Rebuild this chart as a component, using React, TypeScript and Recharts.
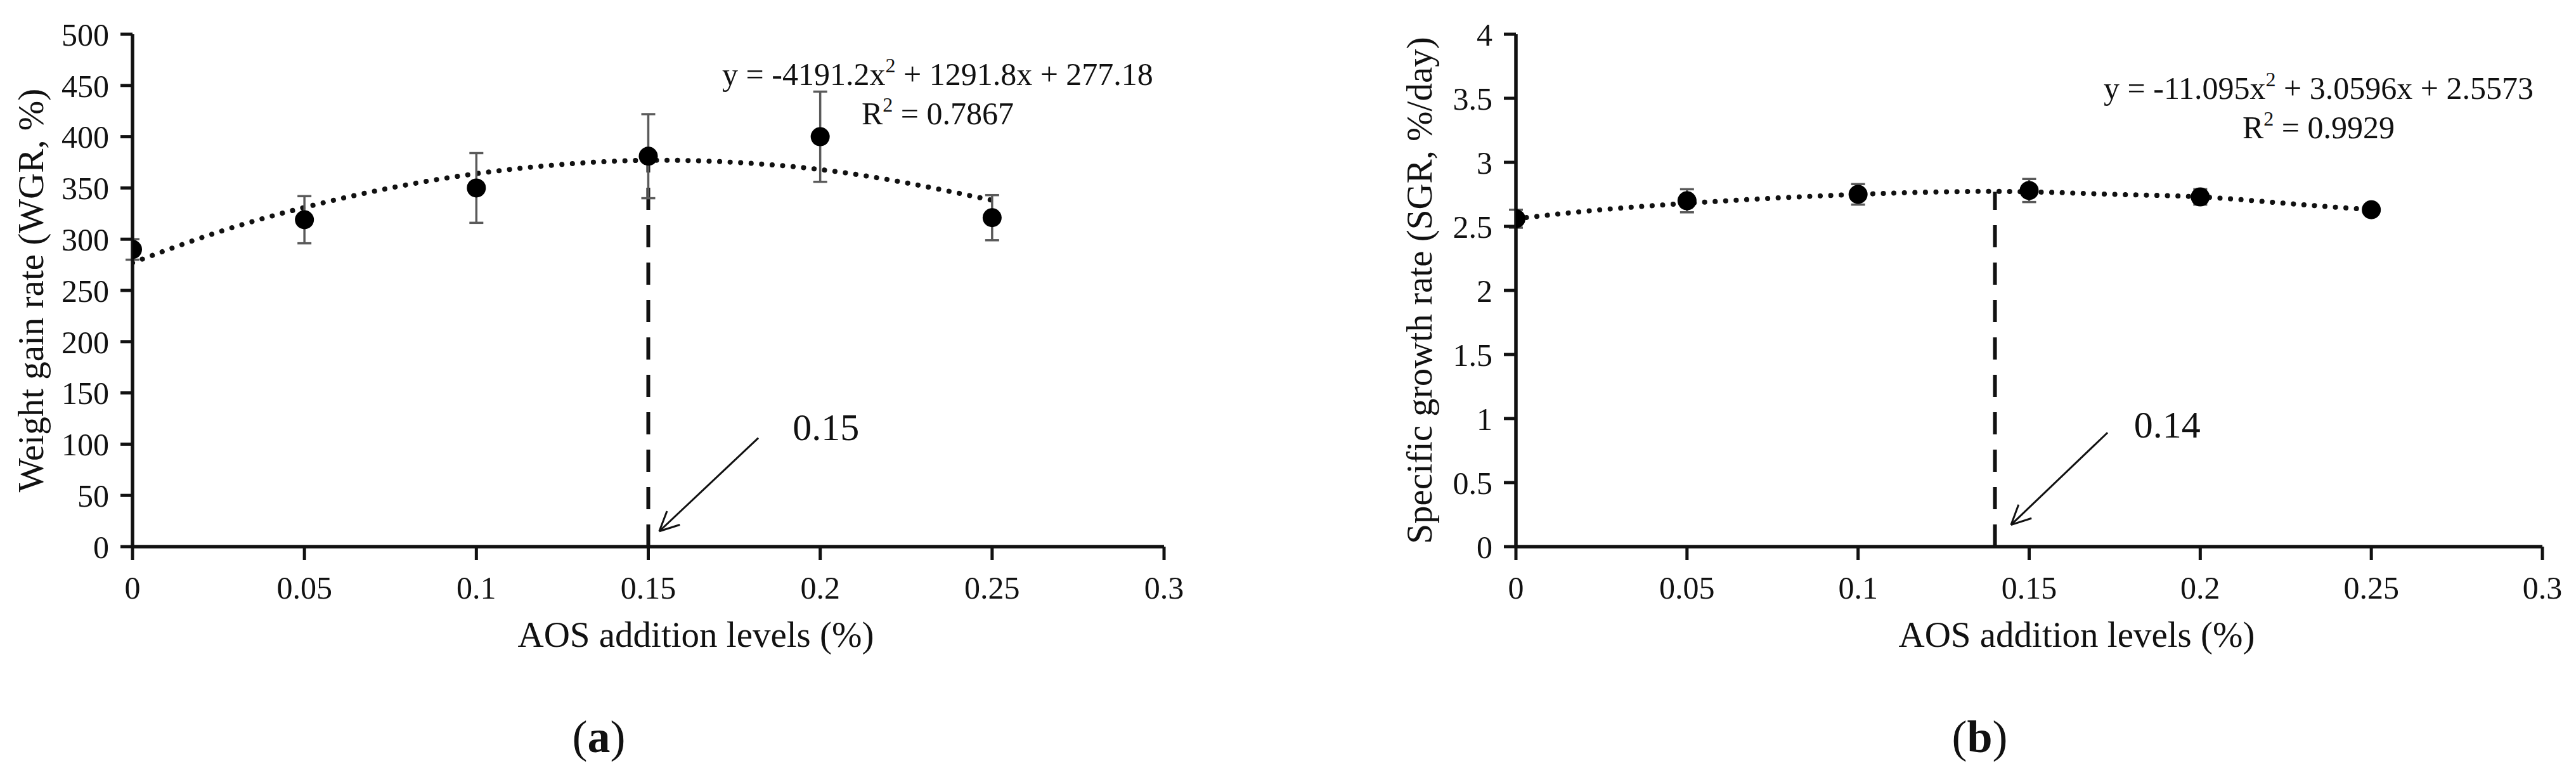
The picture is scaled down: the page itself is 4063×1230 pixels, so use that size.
import React from "react";
import {
  ComposedChart,
  Line,
  Scatter,
  XAxis,
  YAxis,
  ErrorBar,
  ReferenceLine,
  ReferenceDot,
} from "recharts";

const SERIF = '"Liberation Serif", "Times New Roman", serif';
const INK = "#111";

// AOS addition levels (%)
const levels = [0, 0.05, 0.1, 0.15, 0.2, 0.25];

// weight gain rate, mean and error
const wgrMean = [290, 319, 350, 381, 400, 321];
const wgrErr = [10, 23, 34, 41, 44, 22];

// specific growth rate, mean and error (panel b)
const sgrMean = [2.56, 2.7, 2.75, 2.78, 2.73, 2.63];
const sgrErr = [0.07, 0.09, 0.08, 0.09, 0.06, 0.03];

// dotted trend curves as traced on the picture
const curveX = [0, 0.025, 0.05, 0.075, 0.1, 0.125, 0.15, 0.175, 0.2, 0.225, 0.25];
const wgrCurve = [277, 307, 331, 350, 364, 373, 377, 375, 368, 355, 338];
const sgrCurve = [2.56, 2.63, 2.68, 2.72, 2.75, 2.77, 2.77, 2.75, 2.73, 2.68, 2.63];

const xTicks = [0, 0.05, 0.1, 0.15, 0.2, 0.25, 0.3];
const wgrTicks = [0, 50, 100, 150, 200, 250, 300, 350, 400, 450, 500];
const sgrTicks = [0, 0.5, 1, 1.5, 2, 2.5, 3, 3.5, 4];

const toPoints = (xs: number[], ys: number[], errs?: number[]) =>
  xs.map((x, i) => ({ x, y: ys[i], err: errs ? errs[i] : 0 }));

type Pt = { x: number; y: number };

type PanelProps = {
  left: number;
  width: number;
  marginRight: number;
  yAxisWidth: number;
  yLabel: string;
  yLabelX: number;
  yMax: number;
  yTicks: number[];
  means: number[];
  errs: number[];
  curve: number[];
  optimum: number;
  peak: number;
  eqMain: [string, string];
  r2: string;
  eqTop: number;
  eqDx: number;
  arrowTail: Pt;
  arrowHead: Pt;
  noteAt: Pt;
  note: string;
  caption: string;
};

const ArrowShape = (p: any) => {
  const { x1, y1, x2, y2 } = p;
  const ang = Math.atan2(y1 - y2, x1 - x2);
  const len = 34;
  const spread = 0.45;
  const a1 = ang + spread;
  const a2 = ang - spread;
  return (
    <g>
      <line x1={x1} y1={y1} x2={x2} y2={y2} stroke={INK} strokeWidth={3} />
      <line x1={x2} y1={y2} x2={x2 + len * Math.cos(a1)} y2={y2 + len * Math.sin(a1)} stroke={INK} strokeWidth={3} />
      <line x1={x2} y1={y2} x2={x2 + len * Math.cos(a2)} y2={y2 + len * Math.sin(a2)} stroke={INK} strokeWidth={3} />
    </g>
  );
};

function Panel(props: PanelProps) {
  const pts = toPoints(levels, props.means, props.errs);
  const curve = toPoints(curveX, props.curve);

  const yLabel = (lp: any) => {
    const vb = lp.viewBox || { x: 0, y: 54, width: 0, height: 808 };
    const cy = vb.y + vb.height / 2;
    return (
      <text
        x={props.yLabelX}
        y={cy}
        transform={`rotate(-90 ${props.yLabelX} ${cy})`}
        textAnchor="middle"
        fontFamily={SERIF}
        fontSize={57}
        fill={INK}
      >
        {props.yLabel}
      </text>
    );
  };

  const xLabel = (lp: any) => {
    const vb = lp.viewBox || { x: 0, y: 862, width: 1620, height: 100 };
    const cx = vb.x + vb.width / 2;
    const top = vb.y - 808;
    const ex = vb.x + props.eqDx;
    return (
      <g fontFamily={SERIF} fill={INK}>
        <text x={cx + 75} y={vb.y + 158} textAnchor="middle" fontSize={57}>
          AOS addition levels (%)
        </text>
        <text x={cx - 78} y={vb.y + 324} textAnchor="middle" fontSize={72}>
          (<tspan fontWeight="bold">{props.caption}</tspan>)
        </text>
        <text x={ex} y={top + props.eqTop} textAnchor="middle" fontSize={50}>
          {props.eqMain[0]}
          <tspan fontSize={32} dy={-20}>2</tspan>
          <tspan dy={20}>{props.eqMain[1]}</tspan>
        </text>
        <text x={ex} y={top + props.eqTop + 62} textAnchor="middle" fontSize={50}>
          R<tspan fontSize={32} dy={-20}>2</tspan>
          <tspan dy={20}>{" = " + props.r2}</tspan>
        </text>
      </g>
    );
  };

  const noteLabel = (lp: any) => {
    const vb = lp.viewBox || { x: 0, y: 0 };
    return (
      <text x={vb.x} y={vb.y} fontFamily={SERIF} fontSize={60} fill={INK}>
        {props.note}
      </text>
    );
  };

  return (
    <div style={{ position: "absolute", left: props.left, top: 0 }}>
      <ComposedChart
        width={props.width}
        height={1230}
        margin={{ top: 54, right: props.marginRight, bottom: 268, left: 0 }}
      >
        <XAxis
          type="number"
          dataKey="x"
          domain={[0, 0.3]}
          ticks={xTicks}
          allowDataOverflow
          height={100}
          tickSize={21}
          tickMargin={25}
          axisLine={{ stroke: INK, strokeWidth: 5.5 }}
          tickLine={{ stroke: INK, strokeWidth: 5 }}
          tick={{ fontSize: 50, fill: INK, fontFamily: SERIF }}
          label={xLabel}
        />
        <YAxis
          type="number"
          dataKey="y"
          domain={[0, props.yMax]}
          ticks={props.yTicks}
          allowDataOverflow
          width={props.yAxisWidth}
          tickSize={19}
          tickMargin={18}
          axisLine={{ stroke: INK, strokeWidth: 5.5 }}
          tickLine={{ stroke: INK, strokeWidth: 5 }}
          tick={{ fontSize: 50, fill: INK, fontFamily: SERIF }}
          label={yLabel}
        />
        <ReferenceLine
          segment={[
            { x: props.optimum, y: 0 },
            { x: props.optimum, y: props.peak },
          ]}
          stroke={INK}
          strokeWidth={6}
          strokeDasharray="35 24"
        />
        <ReferenceLine
          segment={[props.arrowTail, props.arrowHead]}
          shape={ArrowShape}
        />
        <ReferenceDot
          x={props.noteAt.x}
          y={props.noteAt.y}
          r={0}
          fill="none"
          stroke="none"
          label={noteLabel}
        />
        <Line
          data={curve}
          dataKey="y"
          type="natural"
          stroke={INK}
          strokeWidth={8}
          strokeDasharray="0.1 16.5"
          strokeLinecap="round"
          dot={false}
          activeDot={false}
          isAnimationActive={false}
        />
        <Scatter
          data={pts}
          fill="#000"
          isAnimationActive={false}
          shape={(p: any) => <circle cx={p.cx} cy={p.cy} r={15} fill="#000" />}
        >
          <ErrorBar
            dataKey="err"
            direction="y"
            width={11}
            stroke="#5a5a5a"
            strokeWidth={3.5}
            isAnimationActive={false}
          />
        </Scatter>
      </ComposedChart>
    </div>
  );
}

export default function App() {
  return (
    <div
      style={{
        position: "absolute",
        left: 0,
        top: 0,
        width: 4063,
        height: 1230,
        background: "#fff",
        overflow: "hidden",
      }}
    >
      <Panel
        left={0}
        width={2000}
        marginRight={164}
        yAxisWidth={209}
        yLabel="Weight gain rate (WGR, %)"
        yLabelX={68}
        yMax={500}
        yTicks={wgrTicks}
        means={wgrMean}
        errs={wgrErr}
        curve={wgrCurve}
        optimum={0.15}
        peak={377}
        eqMain={["y = -4191.2x", " + 1291.8x + 277.18"]}
        r2="0.7867"
        eqTop={80}
        eqDx={1270}
        arrowTail={{ x: 0.182, y: 106 }}
        arrowHead={{ x: 0.1532, y: 15 }}
        noteAt={{ x: 0.192, y: 104 }}
        note="0.15"
        caption="a"
      />
      <Panel
        left={2000}
        width={2063}
        marginRight={53}
        yAxisWidth={391}
        yLabel="Specific growth rate (SGR, %/day)"
        yLabelX={258}
        yMax={4}
        yTicks={sgrTicks}
        means={sgrMean}
        errs={sgrErr}
        curve={sgrCurve}
        optimum={0.14}
        peak={2.77}
        eqMain={["y = -11.095x", " + 3.0596x + 2.5573"]}
        r2="0.9929"
        eqTop={102}
        eqDx={1266}
        arrowTail={{ x: 0.1729, y: 0.89 }}
        arrowHead={{ x: 0.1447, y: 0.17 }}
        noteAt={{ x: 0.1806, y: 0.85 }}
        note="0.14"
        caption="b"
      />
    </div>
  );
}
